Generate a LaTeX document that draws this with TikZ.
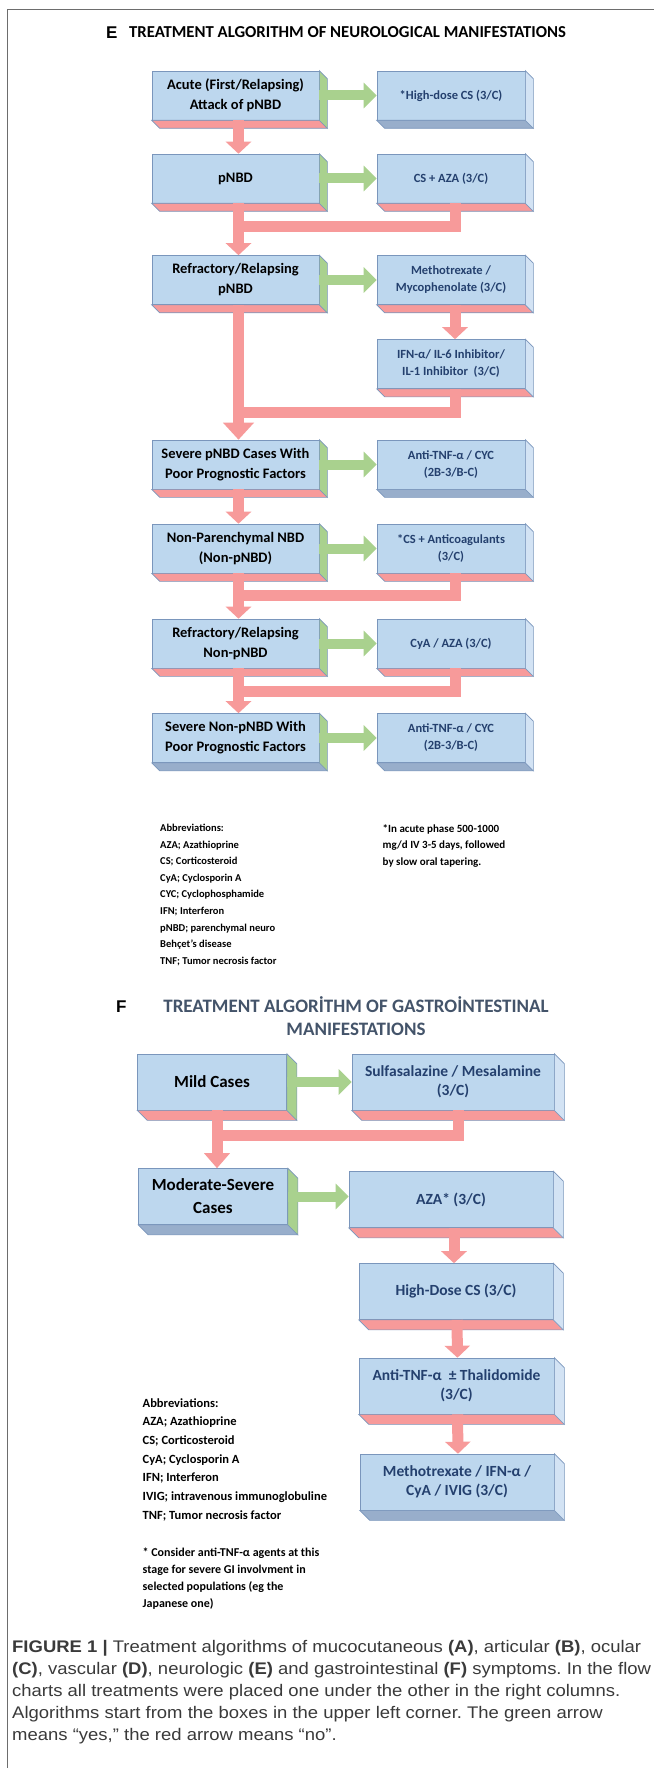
\documentclass[tikz,border=0pt]{standalone}
\usepackage{fontspec}
\usepackage{tikz}
\usetikzlibrary{arrows.meta}
\setmainfont{Carlito}
\newfontfamily\arialfont{Liberation Sans}
\newfontfamily\captionfont[FakeStretch=1.1]{Liberation Sans}

\definecolor{boxfront}{HTML}{BDD7EE}
\definecolor{boxline}{HTML}{7A96BC}
\definecolor{sidelight}{HTML}{D3E3F4}
\definecolor{basedark}{HTML}{98AECB}
\definecolor{nored}{HTML}{F79A9A}
\definecolor{yesgreen}{HTML}{A9D18E}
\definecolor{navytext}{HTML}{24406E}
\definecolor{slatetitle}{HTML}{44546A}
\definecolor{captiongray}{HTML}{3A3A3A}
\definecolor{framegray}{HTML}{6D6D6D}

\begin{document}
\frenchspacing
\begin{tikzpicture}[x=1pt, y=-1pt,
		cube/.style={rectangle, draw=boxline, line width=0.6pt, fill=boxfront, align=center, inner sep=0pt},
		leftE/.style={cube, minimum width=167pt, minimum height=49pt, font=\bfseries\fontsize{14.5}{20}\selectfont},
		rightE/.style={cube, minimum width=148pt, minimum height=49pt, text=navytext, font=\bfseries\fontsize{12.5}{17}\selectfont},
		leftF/.style={cube, minimum width=149pt, minimum height=56pt, font=\bfseries\fontsize{17}{23}\selectfont},
		rightF/.style={cube, minimum height=56pt, text=navytext, font=\bfseries\fontsize{15.5}{19}\selectfont},
		yesarrow/.style={draw=yesgreen, line width=10pt, -{Triangle[width=25pt,length=13pt]}},
		noarrow/.style={draw=nored, line width=11pt, line join=miter, -{Triangle[width=25pt,length=12pt]}},
		noband/.style={noarrow, -},
		abbrev/.style={align=left, inner sep=0pt, anchor=north west},
	]
		% page and frame
		\fill[white] (0,0) rectangle (654,1768);
		\useasboundingbox (0,0) rectangle (654,1768);
		\draw[framegray, line width=1.5pt] (7.5,1768) -- (7.5,9.5) -- (654,9.5);

		% E: titles
		\node[anchor=west, inner sep=0pt, font=\arialfont\bfseries\fontsize{17}{20}\selectfont] (letE) at (106,33) {E};
		\node[anchor=west, inner sep=0pt, font=\bfseries\fontsize{16.7}{19}\selectfont] (titleE) at (129,32) {TREATMENT ALGORITHM OF NEUROLOGICAL MANIFESTATIONS};

		% E: left column
		\node[leftE] (a1) at (235.5,95.5) {Acute (First/Relapsing)\\Attack of pNBD};
		\node[leftE] (a2) at (235.5,178.5) {pNBD};
		\node[leftE] (a3) at (235.5,280) {Refractory/Relapsing\\pNBD};
		\node[leftE] (a4) at (235.5,464.5) {Severe pNBD Cases With\\Poor Prognostic Factors};
		\node[leftE] (a5) at (235.5,548.5) {Non-Parenchymal NBD\\(Non-pNBD)};
		\node[leftE] (a6) at (235.5,643.5) {Refractory/Relapsing\\Non-pNBD};
		\node[leftE] (a7) at (235.5,738) {Severe Non-pNBD With\\Poor Prognostic Factors};

		% E: right column
		\node[rightE] (b1) at (451,95.5) {*High-dose CS (3/C)};
		\node[rightE] (b2) at (451,178.5) {CS + AZA (3/C)};
		\node[rightE] (b3) at (451,280) {Methotrexate /\\Mycophenolate (3/C)};
		\node[rightE] (b4) at (451,364) {IFN-α/ IL-6 Inhibitor/\\IL-1 Inhibitor~ (3/C)};
		\node[rightE] (b5) at (451,464.5) {Anti-TNF-α / CYC\\(2B-3/B-C)};
		\node[rightE] (b6) at (451,548.5) {*CS + Anticoagulants\\(3/C)};
		\node[rightE] (b7) at (451,643.5) {CyA / AZA (3/C)};
		\node[rightE] (b8) at (451,738) {Anti-TNF-α / CYC\\(2B-3/B-C)};

		% F: titles
		\node[anchor=west, inner sep=0pt, font=\arialfont\bfseries\fontsize{17}{20}\selectfont] (letF) at (116,1007) {F};
		\node[align=center, inner sep=0pt, text=slatetitle, font=\bfseries\fontsize{19}{23}\selectfont] (titleF) at (356,1016.5) {TREATMENT ALGORİTHM OF GASTROİNTESTINAL\\MANIFESTATIONS};

		% F: boxes
		\node[leftF] (f1) at (212,1082) {Mild Cases};
		\node[leftF] (f2) at (213,1196.5) {Moderate-Severe\\Cases};
		\node[rightF, minimum width=202pt] (g1) at (453,1082) {Sulfasalazine / Mesalamine\\(3/C)};
		\node[rightF, minimum width=204pt] (g2) at (451,1199.5) {AZA* (3/C)};
		\node[rightF, minimum width=194pt] (g3) at (456,1291.5) {High-Dose CS (3/C)};
		\node[rightF, minimum width=195pt] (g4) at (456.5,1386) {Anti-TNF-α ~±~Thalidomide\\(3/C)};
		\node[rightF, minimum width=194pt] (g5) at (457,1482) {Methotrexate / IFN-α /\\CyA / IVIG (3/C)};

		% 3D faces: node/bottom/side/depth
		\foreach \n/\b/\s/\d in {a1/nored/yesgreen/8, a2/nored/yesgreen/8, a3/nored/yesgreen/8, a4/nored/yesgreen/8,
				a5/nored/yesgreen/8, a6/nored/yesgreen/8, a7/basedark/yesgreen/8,
				b1/basedark/sidelight/8, b2/nored/sidelight/8, b3/nored/sidelight/8, b4/nored/sidelight/8,
				b5/basedark/sidelight/8, b6/nored/sidelight/8, b7/nored/sidelight/8, b8/basedark/sidelight/8,
				f1/nored/yesgreen/10, f2/basedark/yesgreen/10, g1/nored/sidelight/10, g2/nored/sidelight/10,
				g3/nored/sidelight/10, g4/nored/sidelight/10, g5/basedark/sidelight/10}{
			\filldraw[fill=\b, draw=boxline, line width=0.6pt] (\n.south west) -- ++(\d,\d) -- ([shift={(\d,\d)}]\n.south east) -- (\n.south east) -- cycle;
			\filldraw[fill=\s, draw=boxline, line width=0.6pt] (\n.north east) -- ++(\d,\d) -- ([shift={(\d,\d)}]\n.south east) -- (\n.south east) -- cycle;
		}

		% junctions of the red bands
		\coordinate (j1) at (238.5,226.5);
		\coordinate (j2) at (238.5,412);
		\coordinate (j3) at (238.5,595.5);
		\coordinate (j4) at (238.5,691.5);
		\coordinate (k1) at (217,1135.5);

		% E: green arrows (yes)
		\draw[yesarrow] (a1.east) -- (b1.west);
		\draw[yesarrow] (a2.east) -- (b2.west);
		\draw[yesarrow] (a3.east) -- (b3.west);
		\draw[yesarrow] (a4.east) -- (b5.west);
		\draw[yesarrow] (a5.east) -- (b6.west);
		\draw[yesarrow] (a6.east) -- (b7.west);
		\draw[yesarrow] (a7.east) -- (b8.west);

		% E: red arrows (no)
		\draw[noband] ([xshift=4pt]b2.south) |- (j1);
		\draw[noband] ([xshift=4pt]b4.south) |- (j2);
		\draw[noband] ([xshift=4pt]b6.south) |- (j3);
		\draw[noband] ([xshift=4pt]b7.south) |- (j4);
		\draw[noarrow] ([xshift=3pt]a1.south) -- ([xshift=3pt]a2.north);
		\draw[noarrow] ([xshift=3pt]a2.south) -- ([xshift=3pt]a3.north);
		\draw[noarrow, -{Triangle[width=30pt,length=17pt]}] ([xshift=3pt]a3.south) -- ([xshift=3pt]a4.north);
		\draw[noarrow] ([xshift=3pt]a4.south) -- ([xshift=3pt]a5.north);
		\draw[noarrow] ([xshift=3pt]a5.south) -- ([xshift=3pt]a6.north);
		\draw[noarrow] ([xshift=3pt]a6.south) -- ([xshift=3pt]a7.north);
		\draw[noarrow] ([xshift=4pt]b3.south) -- ([xshift=4pt]b4.north);

		% F: arrows
		\draw[yesarrow] (f1.east) -- (g1.west);
		\draw[yesarrow] (f2.east) -- (f2.east -| g2.west);
		\draw[noband] ([xshift=5pt]g1.south) |- (k1);
		\draw[noarrow, -{Triangle[width=25pt,length=15pt]}] ([xshift=5pt]f1.south) -- ([xshift=4pt]f2.north);
		\draw[noarrow] ([xshift=3pt]g2.south) -- ([xshift=3pt]g2.south |- g3.north);
		\draw[noarrow] ([xshift=1pt]g3.south) -- ([xshift=1pt]g4.north);
		\draw[noarrow] ([xshift=1pt]g4.south) -- ([xshift=1pt]g5.north);

		% abbreviations and notes
		\node[abbrev, font=\bfseries\fontsize{10.5}{16.6}\selectfont] (abbrE) at (160,824) {Abbreviations:\\AZA; Azathioprine\\CS; Corticosteroid\\CyA; Cyclosporin A\\CYC; Cyclophosphamide\\IFN; Interferon\\pNBD; parenchymal neuro\\Behçet’s disease\\TNF; Tumor necrosis factor};
		\node[abbrev, font=\bfseries\fontsize{11}{16.5}\selectfont] (noteE) at (382.5,824) {*In acute phase 500-1000\\mg/d IV 3-5 days, followed\\by slow oral tapering.};
		\node[abbrev, font=\bfseries\fontsize{12.5}{18.7}\selectfont] (abbrF) at (142.5,1398) {Abbreviations:\\AZA; Azathioprine\\CS; Corticosteroid\\CyA; Cyclosporin A\\IFN; Interferon\\IVIG; intravenous immunoglobuline\\TNF; Tumor necrosis factor};
		\node[abbrev, font=\bfseries\fontsize{12}{17}\selectfont] (noteF) at (142.5,1548) {* Consider anti-TNF-α agents at this\\stage for severe GI involvment in\\selected populations (eg the\\Japanese one)};

		% caption
		\node[abbrev, text=captiongray, font=\captionfont\fontsize{16.8}{22}\selectfont] (caption) at (12,1640) {\textbf{FIGURE 1 |} Treatment algorithms of mucocutaneous \textbf{(A)}, articular \textbf{(B)}, ocular\\\textbf{(C)}, vascular \textbf{(D)}, neurologic \textbf{(E)} and gastrointestinal \textbf{(F)} symptoms. In the flow\\charts all treatments were placed one under the other in the right columns.\\Algorithms start from the boxes in the upper left corner. The green arrow\\means “yes,” the red arrow means “no”.};
	\end{tikzpicture}
\end{document}
